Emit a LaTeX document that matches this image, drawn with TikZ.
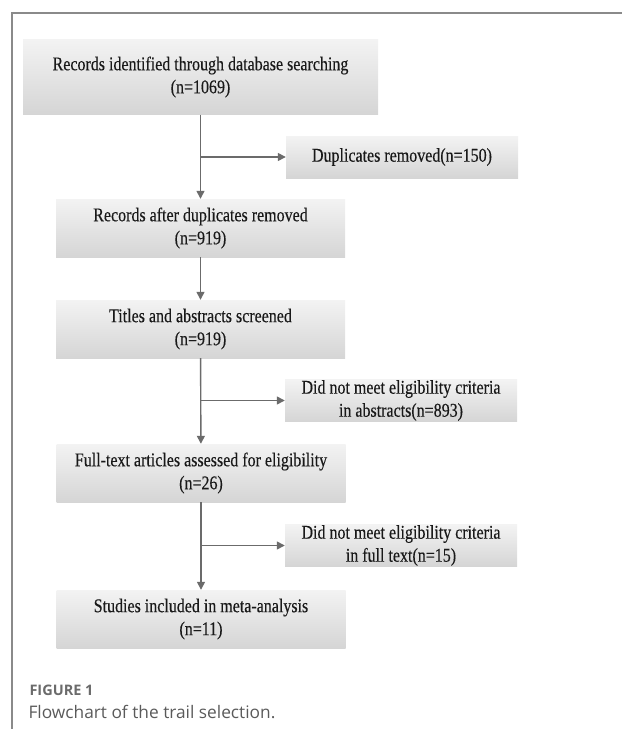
\documentclass[tikz,border=0pt]{standalone}
\usepackage{fontspec}
\setmainfont{Liberation Serif}[FakeStretch=0.82, FakeBold=0.3]
\newfontfamily\capfont{Open Sans}
\usepackage{tikz}
\usetikzlibrary{arrows.meta}

\definecolor{linegray}{HTML}{6B6B6B}
\definecolor{framegray}{HTML}{8A8A8A}
\definecolor{boxtop}{HTML}{F3F3F3}
\definecolor{boxbottom}{HTML}{D5D5D5}
\definecolor{capgray}{HTML}{5A5A5A}

\tikzset{
  stagebox/.style={rectangle, top color=boxtop, bottom color=boxbottom, draw=none,
    align=center, inner sep=0pt, text=black!90, font=\fontsize{19.5}{23}\selectfont},
  mainbox/.style={stagebox, minimum width=289pt, minimum height=58pt},
  dropbox/.style={stagebox, minimum width=232pt, minimum height=42pt},
  flowline/.style={draw=linegray, line width=1.4pt},
  flowarrow/.style={flowline, -{Triangle[length=8pt,width=8pt]}},
}

\begin{document}
\begin{tikzpicture}[x=1pt,y=-1pt]
    \useasboundingbox (0,0) rectangle (622,729);

    % Frame around the figure
    \draw[framegray, line width=1.5pt] (12,729) -- (12,13) -- (622,13);

    % Main column of stages
    \node[stagebox, minimum width=355pt, minimum height=75pt] (ident) at (200.5,77)
        {Records identified through database searching\\(n=1069)};
    \node[mainbox] (dedup) at (200.5,228) {Records after duplicates removed\\(n=919)};
    \node[mainbox] (screen) at (200.5,329) {Titles and abstracts screened\\(n=919)};
    \node[mainbox] (fulltext) at (201,473) {Full-text articles assessed for eligibility\\(n=26)};
    \node[mainbox] (included) at (201,619) {Studies included in meta-analysis\\(n=11)};

    % Exclusions on the right
    \node[dropbox] (dupes) at (402,157) {Duplicates removed(n=150)};
    \node[dropbox] (noabs) at (401,400.5) {Did not meet eligibility criteria\\in abstracts(n=893)};
    \node[dropbox] (nofull) at (401,545.5) {Did not meet eligibility criteria\\in full text(n=15)};

    % Arrows down the column
    \draw[flowarrow] (ident) -- (dedup);
    \draw[flowarrow] (dedup) -- (screen);
    \draw[flowarrow] (screen) -- (fulltext);
    \draw[flowarrow] (fulltext) -- (included);

    % Branches to the exclusions
    \coordinate (br1) at (ident.south |- dupes.west);
    \coordinate (br2) at (screen.south |- noabs.west);
    \coordinate (br3) at (fulltext.south |- nofull.west);
    \draw[flowarrow] (br1) -- (dupes.west);
    \draw[flowarrow] (br2) -- (noabs.west);
    \draw[flowarrow] (br3) -- (nofull.west);

    % Caption
    \node[anchor=west, text=capgray!90, font=\capfont\bfseries\fontsize{14.5}{17}\selectfont] (capnum) at (26,690) {FIGURE 1};
    \node[anchor=west, text=capgray, font=\capfont\fontsize{17.3}{20}\selectfont] (captext) at (25,712) {Flowchart of the trail selection.};
\end{tikzpicture}
\end{document}
